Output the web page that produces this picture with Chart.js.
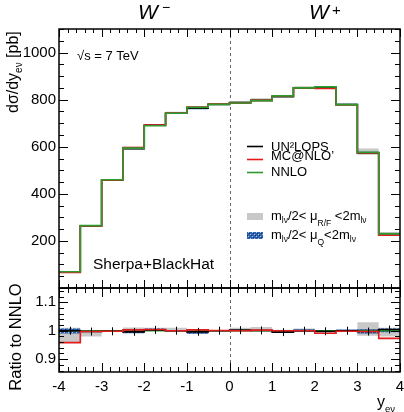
<!DOCTYPE html>
<html><head><meta charset="utf-8">
<script src="https://cdn.jsdelivr.net/npm/chart.js@4"></script>
<style>
html,body{margin:0;padding:0;background:#fff;width:404px;height:412px;overflow:hidden}
#wrap{position:relative;width:404px;height:412px}
canvas{position:absolute;left:0}
#c1{top:0}
#c2{top:280px}
</style></head><body>
<div id="wrap"><canvas id="c1" width="404" height="290"></canvas><canvas id="c2" width="404" height="132"></canvas></div>
<script>
// ---------- data ----------
const binEdges = [-4,-3.5,-3,-2.5,-2,-1.5,-1,-0.5,0,0.5,1,1.5,2,2.5,3,3.5,4];
const nnlo     = [69,265,460,594,689,742,767,780,786,796,816,850,854,779,576,230];
const un2lops  = [69,264,459,592,691,742,764,780,788,797,812,850,852,779,574,231];
const mcatnlo  = [66,264,459,596,692,742,769,781,786,797,816,850,847,778,574,224];
const rfLow    = [66,260,458,594,689,741,765,779,783,794,811,847,845,777,566,225];
const rfHigh   = [70,266,460,600,696,749,770,781,794,806,818,857,854,780,593,232];
const qLow     = [68,264,459,589,689,741,759,779,785,795,812,848,852,777,570,229];
const qHigh    = [70,266,461,596,695,743,770,781,788,798,816,854,855,782,579,232];

const ratioNNLO    = [1,1,1,1,1,1,1,1,1,1,1,1,1,1,1,1];
const ratioUN2LOPS = [1.000,0.997,0.998,0.996,1.003,1.000,0.996,1.000,1.002,1.001,0.995,1.000,0.998,1.000,0.997,1.004];
const ratioMCatNLO = [0.958,0.997,0.998,1.003,1.004,1.000,1.003,1.001,1.000,1.002,1.000,1.000,0.991,0.998,0.997,0.973];
const ratioRFLow   = [0.960,0.980,0.996,1.000,1.000,0.998,0.997,0.999,0.996,0.997,0.994,0.996,0.990,0.997,0.982,0.980];
const ratioRFHigh  = [1.010,1.002,1.000,1.011,1.010,1.010,1.004,1.001,1.010,1.013,1.003,1.008,1.000,1.002,1.030,1.010];
const ratioQLow    = [0.990,0.996,0.998,0.991,1.000,0.999,0.989,0.999,0.999,0.999,0.996,0.997,0.998,0.997,0.990,0.995];
const ratioQHigh   = [1.008,1.002,1.002,1.004,1.008,1.002,1.004,1.001,1.002,1.002,1.000,1.005,1.000,1.004,1.005,1.008];

const xTickValues = [-4,-3,-2,-1,0,1,2,3,4];
const yTicksMain  = [200,400,600,800,1000];
const yTicksRatio = [0.9,1,1.1];

// ---------- helpers ----------
const FONT = '"Liberation Sans", Arial, sans-serif';
function steps(vals){
  const pts = vals.map((v,i)=>({x:binEdges[i], y:v}));
  pts.push({x:binEdges[binEdges.length-1], y:vals[vals.length-1]});
  return pts;
}
function hatch(){
  const c = document.createElement('canvas'); c.width=4; c.height=4;
  const g = c.getContext('2d');
  g.fillStyle='#2f62ad'; g.fillRect(0,0,4,4);
  g.fillStyle='#a9cdf2';
  g.fillRect(0,0,1,1); g.fillRect(2,2,1,1);
  g.fillStyle='#17356b';
  g.fillRect(1,1,1,1); g.fillRect(3,3,1,1);
  return g.createPattern(c,'repeat');
}
const HATCH = hatch();
const COL = {black:'#000000', red:'#e41a1c', green:'#2e9a2e', grey:'#c8c8c8'};

function rich(ctx, x, y, parts){
  let cx = x;
  for (const [t,size,dy,style] of parts){
    ctx.font = (style||'') + ' ' + size + 'px ' + FONT;
    ctx.fillText(t, cx, y + (dy||0));
    cx += ctx.measureText(t).width;
  }
  return cx;
}
function lineDs(data, color, order, w){
  return {data: steps(data), borderColor: color, borderWidth: w||1.6, pointRadius:0, stepped:true, fill:false, order};
}
function bandDs(lo, hi, idxLo, color, order){
  return [
    {data: steps(lo), borderWidth:0, borderColor:'rgba(0,0,0,0)', pointRadius:0, stepped:true, fill:false, order},
    {data: steps(hi), borderWidth:0, borderColor:'rgba(0,0,0,0)', pointRadius:0, stepped:true, fill:{target:idxLo}, backgroundColor:color, order}
  ];
}
function noPad(s){ s.paddingTop=0; s.paddingBottom=0; s.paddingLeft=0; s.paddingRight=0; }
function drawTicksFrame(chart, xMinorStep, xMajLen, xMinLen, yVals, yMajorTest, yMajLen, yMinLen){
  const {ctx, chartArea:{left,right,top,bottom}, scales:{x,y}} = chart;
  ctx.save();
  ctx.strokeStyle='#000'; ctx.lineWidth=1;
  ctx.beginPath();
  for (let k=0;k<=40;k++){
    const v = -4 + k*xMinorStep;
    const px = Math.round(x.getPixelForValue(v))+0.5;
    const len = (k%5===0)?xMajLen:xMinLen;
    ctx.moveTo(px,top); ctx.lineTo(px,top+len);
    ctx.moveTo(px,bottom); ctx.lineTo(px,bottom-len);
  }
  for (const v of yVals){
    const py = Math.round(y.getPixelForValue(v))+0.5;
    const len = yMajorTest(v)?yMajLen:yMinLen;
    ctx.moveTo(left,py); ctx.lineTo(left+len,py);
    ctx.moveTo(right,py); ctx.lineTo(right-len,py);
  }
  ctx.stroke();
  ctx.lineWidth=1.5;
  ctx.strokeRect(left,top,right-left,bottom-top);
  ctx.restore();
}
function dashedZero(chart){
  const {ctx, chartArea:{top,bottom}, scales:{x}} = chart;
  const px = Math.round(x.getPixelForValue(0))+0.5;
  ctx.save(); ctx.strokeStyle='#666'; ctx.lineWidth=1; ctx.setLineDash([3,3]);
  ctx.beginPath(); ctx.moveTo(px,top); ctx.lineTo(px,bottom); ctx.stroke(); ctx.restore();
}

// ---------- main panel ----------
const mainPlugin = {
  id:'mainDeco',
  beforeDatasetsDraw(chart){ dashedZero(chart); },
  afterDraw(chart){
    const yv=[]; for(let v=0; v<=1100; v+=50) yv.push(v);
    drawTicksFrame(chart, 0.2, 8, 4, yv, v=>v%200===0, 9, 5);
    const ctx = chart.ctx;
    ctx.save(); ctx.fillStyle='#000'; ctx.textAlign='left'; ctx.textBaseline='alphabetic';
    rich(ctx, 138, 19, [['W',21,0,'italic']]);
    rich(ctx, 162, 12, [['\u2212',14,0,'']]);
    rich(ctx, 309, 19, [['W',21,0,'italic']]);
    rich(ctx, 332, 15, [['+',15,0,'']]);
    rich(ctx, 77, 60, [['\u221As = 7 TeV',13,0,'']]);
    rich(ctx, 93, 269, [['Sherpa+BlackHat',15.5,0,'']]);
    const L = [[COL.black,146,'UN\u00B2LOPS',151],[COL.red,159,'MC@NLO\u2019',159.5],[COL.green,172,'NNLO',176]];
    for (const [c,ly,t,ty] of L){
      ctx.strokeStyle=c; ctx.lineWidth=1.6; ctx.beginPath(); ctx.moveTo(247,ly+0.5); ctx.lineTo(263,ly+0.5); ctx.stroke();
      rich(ctx, 271, ty, [[t,13,0,'']]);
    }
    ctx.fillStyle=COL.grey; ctx.fillRect(247,213,16,7);
    ctx.fillStyle=HATCH; ctx.fillRect(247,232,16,7);
    ctx.fillStyle='#000';
    rich(ctx, 271, 220, [['m',13],['l\u03BD',8.5,3],['/2< \u03BC',13],['R/F',8.5,6],[' <2m',13],['l\u03BD',8.5,3]]);
    rich(ctx, 271, 239, [['m',13],['l\u03BD',8.5,3],['/2< \u03BC',13],['Q',8.5,6],['<2m',13],['l\u03BD',8.5,3]]);
    ctx.translate(18,113); ctx.rotate(-Math.PI/2);
    rich(ctx, 0, 0, [['d\u03C3/dy',16],['e\u03BD',10,4],[' [pb]',16]]);
    ctx.restore();
  }
};

new Chart(document.getElementById('c1'), {
  type:'line',
  data:{datasets:[
    ...bandDs(rfLow, rfHigh, 0, COL.grey, 10),
    ...bandDs(qLow, qHigh, 2, HATCH, 9),
    lineDs(un2lops, COL.black, 3),
    lineDs(mcatnlo, COL.red, 2),
    lineDs(nnlo, COL.green, 1)
  ]},
  options:{
    responsive:false, animation:false, events:[],
    layout:{padding:{top:29,right:4,left:0,bottom:2}},
    plugins:{legend:{display:false}, tooltip:{enabled:false}},
    scales:{
      x:{type:'linear', min:-4, max:4, display:false},
      y:{type:'linear', min:0, max:1100,
         afterFit(s){ s.width=59; noPad(s); },
         afterBuildTicks(s){ s.ticks = yTicksMain.map(v=>({value:v})); },
         grid:{display:false, drawTicks:false}, border:{display:false},
         ticks:{padding:3, color:'#000', font:{family:FONT,size:15}, callback:v=>String(v)}}
    }
  },
  plugins:[mainPlugin]
});

// ---------- ratio panel ----------
const ratioPlugin = {
  id:'ratioDeco',
  beforeDatasetsDraw(chart){ dashedZero(chart); },
  afterDatasetsDraw(chart){
    const {ctx, scales:{x,y}} = chart;
    ctx.save(); ctx.strokeStyle='#000'; ctx.lineWidth=1; ctx.beginPath();
    ratioUN2LOPS.forEach((v,i)=>{
      const px = Math.round(x.getPixelForValue((binEdges[i]+binEdges[i+1])/2))+0.5;
      const py = y.getPixelForValue(v);
      ctx.moveTo(px,py-4); ctx.lineTo(px,py+4);
    });
    ctx.stroke(); ctx.restore();
  },
  afterDraw(chart){
    const yv=[]; for(let k=43;k<=57;k++) yv.push(k*0.02);
    drawTicksFrame(chart, 0.2, 9, 5, yv.filter(v=>v>0.855&&v<1.15), v=>Math.abs(v*10-Math.round(v*10))<1e-6, 9, 5);
    const ctx = chart.ctx;
    ctx.save(); ctx.fillStyle='#000'; ctx.textAlign='left'; ctx.textBaseline='alphabetic';
    rich(ctx, 377, 127, [['y',16],['e\u03BD',9.5,5]]);
    ctx.translate(21,57); ctx.rotate(-Math.PI/2); ctx.textAlign='center';
    ctx.font = '16.5px '+FONT; ctx.fillText('Ratio to NNLO',0,0);
    ctx.restore();
  }
};

new Chart(document.getElementById('c2'), {
  type:'line',
  data:{datasets:[
    ...bandDs(ratioRFLow, ratioRFHigh, 0, COL.grey, 10),
    ...bandDs(ratioQLow, ratioQHigh, 2, HATCH, 9),
    lineDs(ratioNNLO, COL.green, 3),
    lineDs(ratioUN2LOPS, COL.black, 2),
    lineDs(ratioMCatNLO, COL.red, 1)
  ]},
  options:{
    responsive:false, animation:false, events:[],
    layout:{padding:{top:8,right:4,left:0,bottom:0}},
    plugins:{legend:{display:false}, tooltip:{enabled:false}},
    scales:{
      x:{type:'linear', min:-4, max:4,
         afterFit(s){ s.height=40; noPad(s); },
         afterBuildTicks(s){ s.ticks = xTickValues.map(v=>({value:v})); },
         grid:{display:false, drawTicks:false}, border:{display:false},
         ticks:{padding:6, color:'#000', maxRotation:0, font:{family:FONT,size:15}, callback:v=>String(v)}},
      y:{type:'linear', min:0.855, max:1.15,
         afterFit(s){ s.width=59; noPad(s); },
         afterBuildTicks(s){ s.ticks = yTicksRatio.map(v=>({value:v})); },
         grid:{display:false, drawTicks:false}, border:{display:false},
         ticks:{padding:3, color:'#000', font:{family:FONT,size:15}, callback:v=>String(v)}}
    }
  },
  plugins:[ratioPlugin]
});
</script>
</body></html>
